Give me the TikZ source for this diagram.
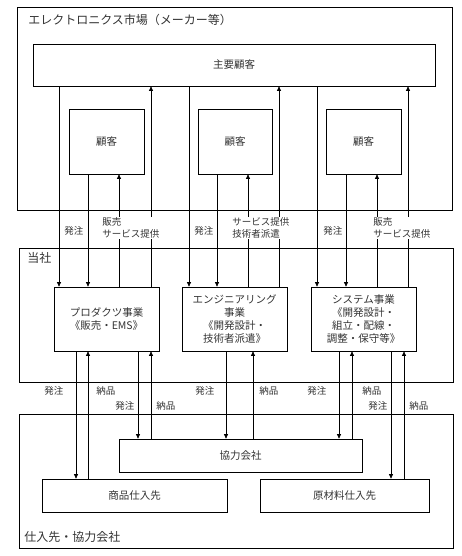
\documentclass[tikz,border=0pt]{standalone}
\usepackage{fontspec}
\setmainfont{Noto Sans CJK JP}
\usepackage{xcolor}
\usetikzlibrary{arrows.meta,positioning}
\tikzset{>={Triangle[length=4.5pt,width=4pt]}}
\definecolor{txtgray}{gray}{0.2}

\begin{document}
\begin{tikzpicture}[x=1pt,y=-1pt,line width=0.7pt,
  frame/.style={draw,minimum width=434pt,minimum height=134pt,inner sep=0pt},
  box/.style={draw,inner sep=0pt,align=center,text=txtgray,font=\fontsize{10.5}{13}\selectfont},
  lbl/.style={anchor=west,fill=white,inner sep=1pt,align=left,text=txtgray,font=\fontsize{9.5}{12}\selectfont},
  ttl/.style={anchor=west,inner sep=0pt,text=txtgray,font=\fontsize{12}{14}\selectfont}]
\useasboundingbox (0,0) rectangle (462,556);
% frames
\node[frame,minimum width=435pt,minimum height=203pt] (mkt) at (234.5,108.5) {};
\node[frame] (self) at (236,315) {};
\node[frame] (sup) at (236,481) {};
\node[ttl] (mktl) at (28,20) {エレクトロニクス市場（メーカー等）};
\node[ttl] (selfl) at (27,258) {当社};
\node[ttl] (supl) at (24,537) {仕入先・協力会社};
% customers
\node[box,minimum width=402pt,minimum height=42pt] (main) at (234,65) {主要顧客};
\node[box,minimum width=75pt,minimum height=65pt] (cust1) at (106.5,141.5) {顧客};
\node[box,minimum width=74pt,minimum height=65pt] (cust2) at (235,141.5) {顧客};
\node[box,minimum width=75pt,minimum height=65pt] (cust3) at (363.5,141.5) {顧客};
% business
\node[box,minimum width=105pt,minimum height=64pt] (prod) at (106.5,319) {プロダクツ事業\\《販売・EMS》};
\node[box,minimum width=105pt,minimum height=64pt] (eng) at (234.5,319) {エンジニアリング\\事業\\《開発設計・\\技術者派遣》};
\node[box,minimum width=105pt,minimum height=64pt] (sys) at (363.5,319) {システム事業\\《開発設計・\\組立・配線・\\調整・保守等》};
% suppliers
\node[box,minimum width=243pt,minimum height=33pt] (coop) at (240.5,455.5) {協力会社};
\node[box,minimum width=185pt,minimum height=33pt] (goods) at (134.5,495.5) {商品仕入先};
\node[box,minimum width=169pt,minimum height=33pt] (raw) at (344.5,495.5) {原材料仕入先};
% flows
\foreach \x/\a/\b in {59/main/prod,88/cust1/prod,189/main/eng,217/cust2/eng,317/main/sys,346/cust3/sys,
  76/prod/goods,138/prod/coop,226/eng/coop,339/sys/coop,391/sys/raw}
  \draw[->] (\x,0 |- \a.south) -- (\x,0 |- \b.north);
\foreach \x/\a/\b in {119/prod/cust1,151/prod/main,248/eng/cust2,279/eng/main,377/sys/cust3,408/sys/main,
  88/goods/prod,151/coop/prod,253/coop/eng,352/coop/sys,404/raw/sys}
  \draw[->] (\x,0 |- \a.north) -- (\x,0 |- \b.south);
% labels
\node[lbl] (o1) at (63,231) {発注};
\node[lbl] (s1) at (101,228) {販売\\サービス提供};
\node[lbl] (o2) at (193,231) {発注};
\node[lbl] (s2) at (231,228) {サービス提供\\技術者派遣};
\node[lbl] (o3) at (322,231) {発注};
\node[lbl] (s3) at (372,228) {販売\\サービス提供};
\node[lbl] (o4) at (43,391) {発注};
\node[lbl] (d4) at (95,391) {納品};
\node[lbl] (o5) at (114,406) {発注};
\node[lbl] (d5) at (155,406) {納品};
\node[lbl] (o6) at (194,391) {発注};
\node[lbl] (d6) at (258,391) {納品};
\node[lbl] (o7) at (306,391) {発注};
\node[lbl] (d7) at (361,391) {納品};
\node[lbl] (o8) at (367,406) {発注};
\node[lbl] (d8) at (408,406) {納品};
\end{tikzpicture}
\end{document}
